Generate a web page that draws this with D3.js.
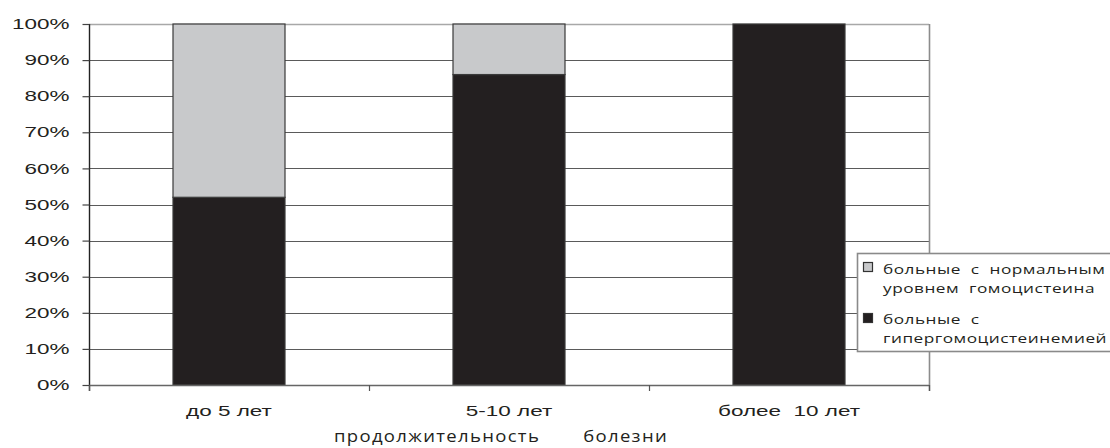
<!DOCTYPE html>
<html>
<head>
<meta charset="utf-8">
<script src="https://d3js.org/d3.v7.min.js"></script>
<style>
  html, body { margin: 0; padding: 0; background: #fff; }
  svg { display: block; }
</style>
</head>
<body>
<svg id="chart" width="1110" height="448"></svg>
<script>
// Disease duration groups and share of patients in each group (%)
const categories = ["до 5 лет", "5-10 лет", "более  10 лет"];
const hyperValues = [52, 86, 100];   // больные с гипергомоцистеинемией
const normalValues = [48, 14, 0];    // больные с нормальным уровнем гомоцистеина
const yTicks = [0, 10, 20, 30, 40, 50, 60, 70, 80, 90, 100];
const legendLines = [
  ["больные  с  нормальным", "уровнем  гомоцистеина"],
  ["больные  с", "гипергомоцистеинемией"]
];
const xTitle = "продолжительность       болезни";

(function () {
const svg = d3.select("#chart");
const plotLeft = 89, plotRight = 929, plotTop = 24, plotBottom = 385;
const ink = "#231f20";

const x = d3.scaleBand().domain(categories).range([plotLeft, plotRight]).paddingInner(0.6).paddingOuter(0.3);
const y = d3.scaleLinear().domain([0, 100]).range([plotBottom, plotTop]);

const colors = { normal: "#c8c9cb", hyper: "#231f20" };

// widen glyphs horizontally (the type in this layout is set extended)
function widen(sel, k) {
  sel.each(function () {
    const w = this.getComputedTextLength();
    d3.select(this).attr("textLength", w * k).attr("lengthAdjust", "spacingAndGlyphs");
  });
}

// gridlines
svg.append("g").selectAll("line").data(yTicks.filter(d => d > 0)).join("line")
  .attr("x1", plotLeft).attr("x2", plotRight)
  .attr("y1", d => Math.round(y(d)) + 0.5).attr("y2", d => Math.round(y(d)) + 0.5)
  .attr("stroke", d => d === 100 ? "#a8a8a8" : "#5a5a5a").attr("stroke-width", d => d === 100 ? 1.6 : 1.2);

// right frame line
svg.append("line").attr("x1", plotRight + 0.5).attr("x2", plotRight + 0.5).attr("y1", plotTop).attr("y2", plotBottom + 6)
  .attr("stroke", "#8c8c8c").attr("stroke-width", 1.6);

// stacked bars
const stack = categories.map((c, i) => ({ c, hyper: hyperValues[i], normal: normalValues[i] }));
const bars = svg.append("g");
bars.selectAll("rect.hyper").data(stack).join("rect").attr("class", "hyper")
  .attr("x", d => x(d.c)).attr("width", x.bandwidth())
  .attr("y", d => y(d.hyper)).attr("height", d => y(0) - y(d.hyper))
  .attr("fill", colors.hyper).attr("stroke", "#3a3a3a").attr("stroke-width", 1.2);
bars.selectAll("rect.normal").data(stack.filter(d => d.normal > 0)).join("rect").attr("class", "normal")
  .attr("x", d => x(d.c)).attr("width", x.bandwidth())
  .attr("y", d => y(d.hyper + d.normal)).attr("height", d => y(d.hyper) - y(d.hyper + d.normal))
  .attr("fill", colors.normal).attr("stroke", "#3a3a3a").attr("stroke-width", 1.2);

// y axis
const yAxis = svg.append("g").attr("transform", `translate(${plotLeft + 0.5},0)`)
  .call(d3.axisLeft(y).tickValues(yTicks).tickFormat(d => d + "%").tickSize(7).tickSizeOuter(0).tickPadding(13));
yAxis.select(".domain").attr("d", `M0,${plotTop}V${plotBottom + 6}`).attr("stroke", "#222").attr("stroke-width", 1.4);
yAxis.selectAll(".tick line").attr("stroke", "#444").attr("stroke-width", 1.2);
yAxis.selectAll("text").attr("font-family", "Liberation Sans, Arial, sans-serif").attr("font-size", 14.5)
  .attr("fill", ink).call(widen, 1.55);

// x axis
const xAxis = svg.append("g").attr("transform", `translate(0,${plotBottom + 0.5})`)
  .call(d3.axisBottom(x).tickSize(0).tickPadding(20));
xAxis.select(".domain").attr("d", `M${plotLeft},0H${plotRight}`).attr("stroke", "#666").attr("stroke-width", 1.4);
xAxis.selectAll("text").attr("font-family", "Liberation Sans, Arial, sans-serif").attr("font-size", 14.5)
  .attr("fill", ink).style("white-space", "pre").call(widen, 1.55);
// category separators
svg.append("g").selectAll("line").data(d3.range(categories.length + 1)).join("line")
  .attr("x1", i => plotLeft + i * (plotRight - plotLeft) / categories.length + 0.5)
  .attr("x2", i => plotLeft + i * (plotRight - plotLeft) / categories.length + 0.5)
  .attr("y1", plotBottom).attr("y2", plotBottom + 6).attr("stroke", "#555").attr("stroke-width", 1.2);

// x axis title
svg.append("text").attr("x", 501).attr("y", 442).attr("text-anchor", "middle")
  .attr("font-family", "Open Sans, Noto Sans, sans-serif").attr("font-size", 16.5)
  .attr("letter-spacing", "1.2px").attr("fill", ink).style("white-space", "pre").text(xTitle)
  .call(widen, 1.12);

// legend
const lg = svg.append("g");
lg.append("rect").attr("x", 857.5).attr("y", 253.5).attr("width", 262).attr("height", 98)
  .attr("fill", "#fff").attr("stroke", "#8a8a8a").attr("stroke-width", 1.6);
const legendRows = [
  { lines: legendLines[0], color: colors.normal, top: 262, base: 274 },
  { lines: legendLines[1], color: colors.hyper, top: 313, base: 324 }
];
const legendFont = 13.5, legendLead = 18.6, legendWidth = 224;
const lineTexts = [];
legendRows.forEach(it => {
  lg.append("rect").attr("x", 863.5).attr("y", it.top + 0.5).attr("width", 9).attr("height", 9)
    .attr("fill", it.color).attr("stroke", "#333").attr("stroke-width", 1.2);
  it.lines.forEach((t, j) => {
    lineTexts.push(lg.append("text").attr("x", 883).attr("y", it.base + j * legendLead)
      .attr("font-family", "Open Sans, Noto Sans, sans-serif").attr("font-size", legendFont)
      .attr("letter-spacing", "0.4px").attr("fill", ink).style("white-space", "pre").text(t));
  });
});
// stretch all legend lines by the factor that fits the longest one to the box
const longest = d3.max(lineTexts, s => s.node().getComputedTextLength());
lineTexts.forEach(s => s.call(widen, legendWidth / longest));
})();
</script>
</body>
</html>
